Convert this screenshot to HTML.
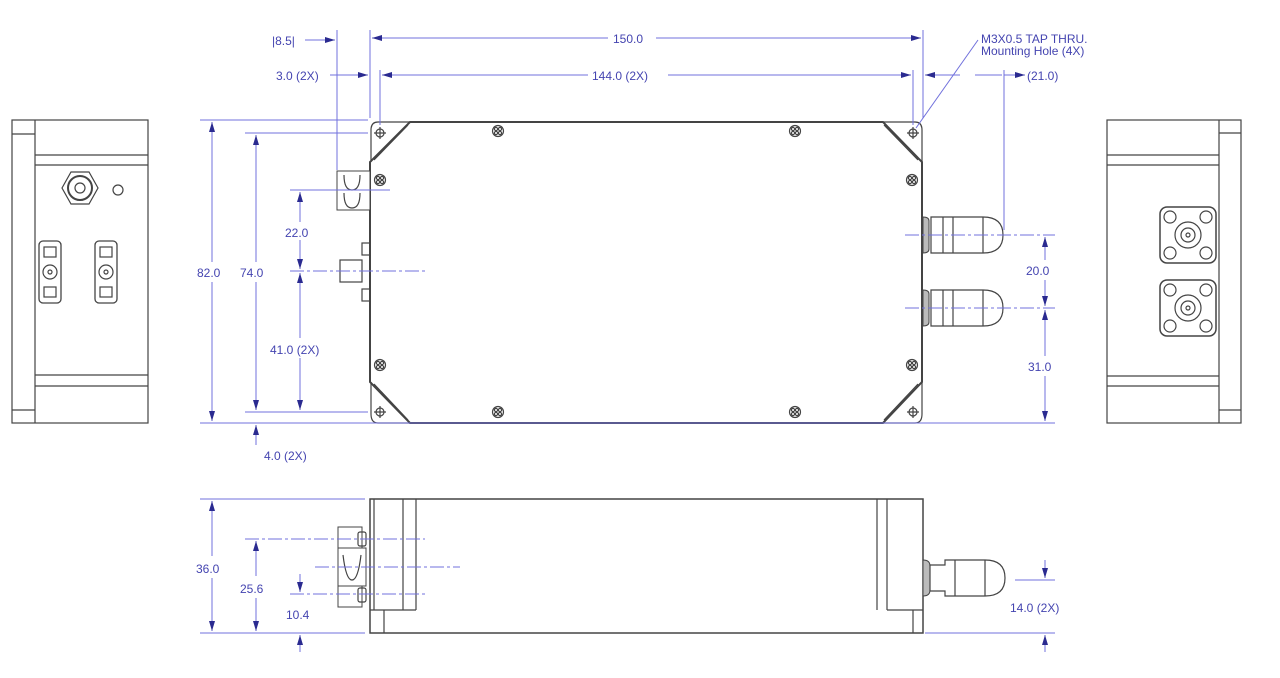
<!DOCTYPE html>
<html><head><meta charset="utf-8"><style>
html,body{margin:0;padding:0;background:#fff;}
svg{display:block;}
text{font-family:"Liberation Sans",sans-serif;font-size:12px;fill:#4444b0;}
.d{stroke:#7070dc;stroke-width:1;fill:none;}
.c{stroke:#7070dc;stroke-width:1;fill:none;stroke-dasharray:14 3 3 3;}
.k{stroke:#444;stroke-width:1.2;fill:none;}
.kb{stroke:#444;stroke-width:2;fill:none;}
</style></head><body>
<svg width="1280" height="678" viewBox="0 0 1280 678" xmlns="http://www.w3.org/2000/svg">
<defs>
<marker id="ar" viewBox="0 0 10 6" refX="10" refY="3" markerWidth="10" markerHeight="6" orient="auto-start-reverse" markerUnits="userSpaceOnUse"><path d="M0,0 L10,3 L0,6z" fill="#2a2a90"/></marker>
<g id="scr"><circle r="5.5" fill="#fff" stroke="#444" stroke-width="1.2"/><circle cx="-2" cy="-2" r="1.6" class="k" stroke-width=".8"/><circle cx="2" cy="-2" r="1.6" class="k" stroke-width=".8"/><circle cx="-2" cy="2" r="1.6" class="k" stroke-width=".8"/><circle cx="2" cy="2" r="1.6" class="k" stroke-width=".8"/></g>
<g id="hole"><circle r="4" class="k"/><path d="M-6,0H6M0,-6V6" class="k" stroke-width=".7"/></g>
<g id="rconn">
<path d="M0,-18 q6,0 6,4 v28 q0,4 -6,4z" fill="#bbb" stroke="#444"/>
<path d="M8,-18 H60 Q80,-18 80,0 Q80,18 60,18 H8z" fill="#fff" stroke="#444" stroke-width="1.2"/>
<path d="M20,-18V18M30,-18V18M60,-18V18" class="k"/>
</g>
<g id="sq"><rect x="-28" y="-28" width="56" height="56" rx="7" fill="#fff" stroke="#444" stroke-width="1.5"/>
<circle cx="-18" cy="-18" r="6" class="k"/><circle cx="18" cy="-18" r="6" class="k"/><circle cx="-18" cy="18" r="6" class="k"/><circle cx="18" cy="18" r="6" class="k"/>
<circle r="13" class="k" stroke-width=".7"/><circle r="7" class="k" stroke="#999" stroke-width="2"/><circle r="2" class="k"/></g>
<g id="lc"><rect x="-11" y="-31" width="22" height="62" rx="4" fill="#fff" stroke="#444" stroke-width="1.3"/>
<rect x="-6" y="-25" width="12" height="10" class="k"/><rect x="-6" y="15" width="12" height="10" class="k"/><circle r="7" class="k"/><circle r="2" class="k"/></g>
</defs>

<!-- LEFT END VIEW -->
<rect x="12" y="120" width="136" height="303" class="k"/>
<path d="M35,120V423M35,155H148M35,165H148M35,375H148M35,386H148M12,134H35M12,410H35" class="k"/>
<polygon points="62,188 71,172 89,172 98,188 89,204 71,204" class="k"/>
<circle cx="80" cy="188" r="12" class="kb"/><circle cx="80" cy="188" r="5" class="k"/>
<circle cx="118" cy="190" r="5" class="k"/>
<use href="#lc" x="50" y="272"/><use href="#lc" x="106" y="272"/>

<!-- RIGHT END VIEW -->
<rect x="1107" y="120" width="134" height="303" class="k"/>
<path d="M1219,120V423M1107,155H1219M1107,165H1219M1107,376H1219M1107,386H1219M1219,133H1241M1219,410H1241" class="k"/>
<use href="#sq" x="1188" y="235"/><use href="#sq" x="1188" y="308"/>

<!-- TOP VIEW MAIN -->
<path d="M370,162 L370,382 L410,423 L883,423 L922,382 L922,162 L883,122 L410,122 Z" fill="#fff" stroke="#444" stroke-width="2"/>
<path d="M371,162 L371,130 Q371,122 378,122 L410,122M371,382 L371,414 Q371,423 378,423 L410,423M922,162 L922,130 Q922,122 915,122 L883,122M922,382 L922,414 Q922,423 915,423 L883,423" class="k"/>
<path d="M374,160 L408,125M374,384 L408,420M918,160 L884,125M918,384 L884,420" class="k" stroke="#999" stroke-width="2.5"/>
<use href="#hole" x="380" y="133"/><use href="#hole" x="913" y="133"/><use href="#hole" x="380" y="412"/><use href="#hole" x="913" y="412"/>
<use href="#scr" x="498" y="131"/><use href="#scr" x="795" y="131"/><use href="#scr" x="498" y="412"/><use href="#scr" x="795" y="412"/>
<use href="#scr" x="380" y="180"/><use href="#scr" x="380" y="365"/><use href="#scr" x="912" y="180"/><use href="#scr" x="912" y="365"/>
<!-- left connectors -->
<rect x="337" y="171" width="33" height="39" fill="#fff" stroke="#444"/>
<path d="M344,175 Q344,190 352,190 Q360,190 360,175 M344,193 Q344,208 352,208 Q360,208 360,193" class="k"/>
<rect x="340" y="260" width="22" height="22" class="k"/>
<rect x="362" y="243" width="8" height="12" class="k"/><rect x="362" y="289" width="8" height="12" class="k"/>
<!-- right connectors -->
<use href="#rconn" x="923" y="235"/><use href="#rconn" x="923" y="308"/>
<path d="M905,235H1055M905,308H1055" class="c"/>
<path d="M290,271H425" class="c"/>

<!-- top dims -->
<path d="M370,30V118M923,30V118M380,70V125M913,70V125M337,30V170M1004,70V230" class="d"/>
<path d="M372,38H608M656,38H921" class="d" marker-start="url(#ar)" marker-end="url(#ar)"/>
<path d="M382,75H588M668,75H911" class="d" marker-start="url(#ar)" marker-end="url(#ar)"/>
<path d="M305,40H335" class="d" marker-end="url(#ar)"/>
<path d="M330,75H368" class="d" marker-end="url(#ar)"/>
<path d="M925,75H960" class="d" marker-start="url(#ar)"/>
<path d="M975,75H1002M1004,75H1025" class="d" marker-end="url(#ar)"/>
<text x="272" y="45">|8.5|</text>
<text x="613" y="43">150.0</text>
<text x="592" y="80">144.0 (2X)</text>
<text x="276" y="80">3.0 (2X)</text>
<text x="1027" y="80">(21.0)</text>
<text x="981" y="43">M3X0.5 TAP THRU.</text>
<text x="981" y="55">Mounting Hole (4X)</text>
<path d="M978,40L916,128" class="d"/>

<!-- left dims -->
<path d="M200,120H368M245,133H368M200,423H1055M245,412H368M290,190H390" class="d"/>
<path d="M212,122V262M212,282V421" class="d" marker-start="url(#ar)" marker-end="url(#ar)"/>
<path d="M256,135V262M256,282V410" class="d" marker-start="url(#ar)" marker-end="url(#ar)"/>
<path d="M300,192V222M300,240V269" class="d" marker-start="url(#ar)" marker-end="url(#ar)"/>
<path d="M300,273V338M300,358V410" class="d" marker-start="url(#ar)" marker-end="url(#ar)"/>
<path d="M256,445V425" class="d" marker-end="url(#ar)"/>
<text x="197" y="277">82.0</text>
<text x="240" y="277">74.0</text>
<text x="285" y="237">22.0</text>
<text x="270" y="354">41.0 (2X)</text>
<text x="264" y="460">4.0 (2X)</text>

<!-- right dims -->
<path d="M1045,237V260M1045,280V306" class="d" marker-start="url(#ar)" marker-end="url(#ar)"/>
<path d="M1045,310V356M1045,376V421" class="d" marker-start="url(#ar)" marker-end="url(#ar)"/>
<text x="1026" y="275">20.0</text>
<text x="1028" y="371">31.0</text>

<!-- BOTTOM VIEW -->
<rect x="370" y="499" width="553" height="134" fill="#fff" stroke="#444" stroke-width="1.5"/>
<path d="M374,499V610M403,499V610M416,499V610M370,610H416M384,610V633M877,499V610M887,499V610M887,610H923M913,610V633" class="k"/>
<path d="M338,548V527H362V548M338,586V607H362V586" fill="#fff" stroke="#444"/>
<rect x="338" y="548" width="28" height="38" fill="#fff" stroke="#444"/>
<path d="M343,555 Q346,580 352,580 Q358,580 361,555" class="k"/>
<rect x="358" y="532" width="8" height="14" rx="2" class="k"/><rect x="358" y="588" width="8" height="14" rx="2" class="k"/>
<path d="M923,560 q7,0 7,6v24q0,6 -7,6z" fill="#bbb" stroke="#444"/>
<path d="M930,565H945V560H985Q1005,560 1005,578Q1005,596 985,596H945V591H930z" fill="#fff" stroke="#444" stroke-width="1.2"/>
<path d="M955,560V596M985,560V596" class="k"/>
<!-- bottom dims -->
<path d="M200,499H365M200,633H365M925,633H1055M1015,580H1055" class="d"/>
<path d="M245,539H425M290,594H425" class="c"/>
<path d="M315,567H460" class="c"/>
<path d="M212,501V556M212,578V631" class="d" marker-start="url(#ar)" marker-end="url(#ar)"/>
<path d="M256,541V576M256,598V631" class="d" marker-start="url(#ar)" marker-end="url(#ar)"/>
<path d="M300,574V592" class="d" marker-end="url(#ar)"/>
<path d="M300,652V635" class="d" marker-end="url(#ar)"/>
<path d="M1045,560V578" class="d" marker-end="url(#ar)"/>
<path d="M1045,652V635" class="d" marker-end="url(#ar)"/>
<text x="196" y="573">36.0</text>
<text x="240" y="593">25.6</text>
<text x="286" y="619">10.4</text>
<text x="1010" y="612">14.0 (2X)</text>
</svg>
</body></html>
